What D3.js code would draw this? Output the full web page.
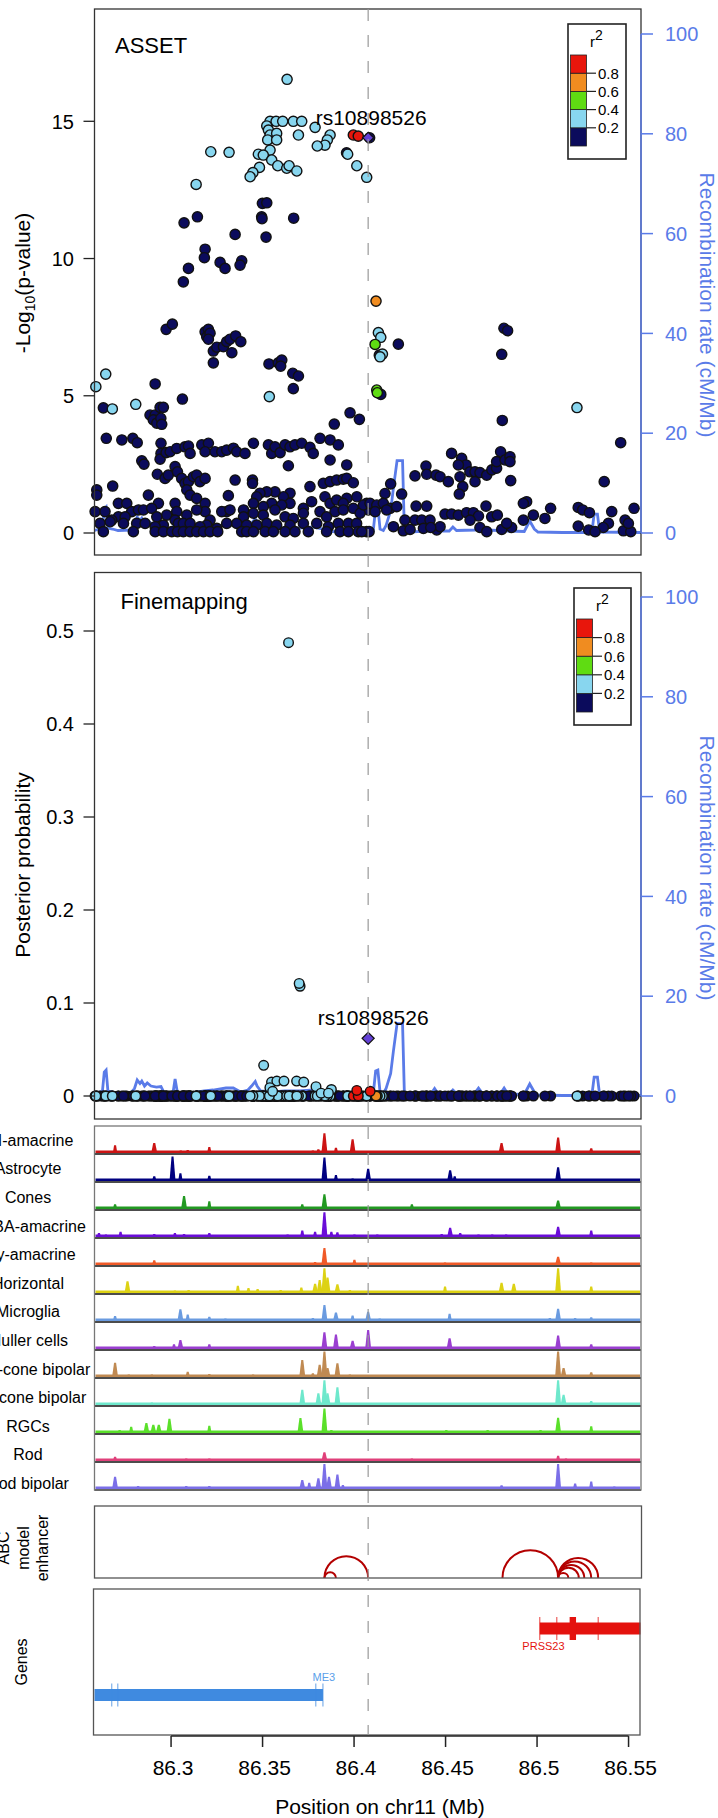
<!DOCTYPE html>
<html>
<head>
<meta charset="utf-8">
<script src="https://cdn.jsdelivr.net/npm/d3@7"></script>
<style>
  body { margin: 0; background: #fff; }
  svg text { font-family: "Liberation Sans", Arial, sans-serif; }
</style>
</head>
<body>
<svg id="chart" width="718" height="1818"></svg>
<script>
// ---- data ----
const xTicks = [86.3, 86.35, 86.4, 86.45, 86.5, 86.55];
const logpTicks = [0, 5, 10, 15];
const ppTicks = [0, 0.1, 0.2, 0.3, 0.4, 0.5];
const recombTicks = [0, 20, 40, 60, 80, 100];
const r2Breaks = [0.2, 0.4, 0.6, 0.8];
const r2Colors = ['#0b0b5c', '#88d6ef', '#5fdc12', '#f08c20', '#e8160c'];

const leadSnp = { name: 'rs10898526', pos: 86.4077, logp: 14.40, pp: 0.062 };

// ASSET -log10(p) by r2 class, [position Mb, -log10 p]
const snpsNavy = [
  [86.3499,12.01],[86.3523,12.03],[86.3144,11.52],[86.3071,11.30],[86.3495,11.52],[86.3497,11.45],[86.3670,11.47],
  [86.3350,10.88],[86.3519,10.78],[86.3186,10.34],[86.3182,10.03],[86.3268,9.86],[86.3295,9.64],[86.3386,9.92],
  [86.3377,9.76],[86.3095,9.64],[86.3067,9.15],[86.3959,13.85],[86.4085,14.40],
  [86.2973,7.42],[86.3007,7.61],[86.3186,7.33],[86.3204,7.42],[86.3195,7.15],[86.3213,7.28],[86.3204,7.06],
  [86.3231,6.63],[86.3250,6.77],[86.3286,6.79],[86.3304,6.97],[86.3322,7.06],[86.3353,7.18],[86.3381,6.97],
  [86.3332,6.57],[86.3231,6.20],[86.3535,6.16],[86.3586,6.20],[86.3605,6.30],[86.3599,6.08],[86.3665,5.82],
  [86.3696,5.72],[86.3668,5.26],[86.2630,4.56],[86.2913,5.43],[86.3062,4.88],[86.2885,4.30],[86.2913,4.30],
  [86.2940,4.58],[86.2958,4.58],[86.2903,4.12],[86.2922,4.00],[86.2944,4.18],[86.2949,3.96],
  [86.2646,3.45],[86.2731,3.39],[86.2791,3.45],[86.2815,3.29],[86.2840,2.63],[86.2852,2.51],
  [86.2945,3.27],[86.2945,2.90],[86.2940,2.69],
  [86.2973,2.93],[86.2995,2.96],[86.3031,3.08],[86.3076,3.14],[86.3095,3.17],[86.3104,2.90],[86.3168,3.21],
  [86.3204,3.27],[86.3186,2.96],[86.3240,2.96],[86.3277,2.96],[86.3304,3.02],[86.3341,3.09],[86.3359,2.96],
  [86.3404,2.90],[86.3450,3.27],[86.3532,3.21],[86.3550,2.90],[86.3568,3.14],[86.3596,2.93],[86.3623,3.21],
  [86.3650,3.14],[86.3677,3.21],[86.3714,3.27],[86.3759,3.12],[86.3777,2.90],[86.3814,3.45],[86.3869,3.39],
  [86.3914,3.21],[86.3869,2.66],[86.3960,2.48],[86.3892,3.97],[86.3978,4.38],[86.4029,4.14],[86.3641,2.45],
  [86.2681,1.71],[86.2594,1.57],[86.2594,1.38],[86.2925,2.14],[86.2967,1.99],[86.2985,2.11],[86.3022,2.42],
  [86.3035,2.23],[86.3058,1.99],[86.3076,1.81],[86.3095,1.87],[86.3122,2.05],[86.3140,2.11],[86.3158,1.87],
  [86.3186,1.99],[86.3086,1.57],[86.3104,1.38],[86.3140,1.26],[86.3186,1.08],[86.3350,1.93],[86.3445,1.93],
  [86.3445,1.81],[86.3313,1.36],[86.3650,1.45],[86.3614,1.32],[86.3568,1.50],[86.3523,1.50],[86.3486,1.45],
  [86.3468,1.32],[86.3759,1.69],[86.3832,1.81],[86.3869,1.87],[86.3905,1.93],[86.3941,1.96],[86.3960,1.99],
  [86.3996,1.83],[86.3841,1.32],[86.3869,1.08],[86.3905,1.20],[86.3960,1.26],[86.4015,1.32],[86.4069,1.08],
  [86.2712,1.08],[86.2758,1.08],[86.2931,1.08],[86.3022,1.08],[86.3450,1.08],[86.3550,1.08],[86.3650,1.08],
  [86.3941,1.08],[86.3768,1.14],[86.2876,1.38],[86.3605,1.02],[86.3504,0.96],[86.3723,0.90],[86.3304,0.78],
  [86.3396,0.84],[86.2585,0.78],[86.2639,0.78],[86.2785,0.78],[86.3031,0.78],[86.3186,0.78],[86.3277,0.78],
  [86.3814,0.78],[86.3896,0.78],[86.2822,0.84],[86.2849,0.84],[86.3140,0.84],[86.3322,0.84],[86.3568,0.84],
  [86.3941,0.84],[86.4078,0.84],[86.2894,0.90],[86.3996,0.90],[86.3450,0.72],[86.3723,0.72],[86.4033,0.72],
  [86.2976,0.65],[86.3086,0.65],[86.3504,0.65],[86.2712,0.59],[86.2749,0.59],[86.2922,0.59],[86.3396,0.59],
  [86.3623,0.59],[86.3850,0.59],[86.3668,0.53],[86.2676,0.47],[86.3213,0.47],[86.3022,0.47],[86.2667,0.41],
  [86.2612,0.35],[86.2740,0.35],[86.2812,0.35],[86.2858,0.35],[86.3040,0.35],[86.3067,0.35],[86.3104,0.35],
  [86.3304,0.35],[86.3359,0.35],[86.3523,0.35],[86.3723,0.35],[86.3796,0.35],[86.3914,0.35],[86.3969,0.35],
  [86.4014,0.35],[86.2958,0.29],[86.3195,0.29],[86.3413,0.29],[86.3468,0.29],[86.3577,0.29],[86.3650,0.29],
  [86.2913,0.23],[86.3158,0.23],[86.3860,0.23],[86.3250,0.17],
  [86.2630,0.05],[86.2794,0.05],[86.2913,0.05],[86.2958,0.05],[86.3004,0.05],[86.3035,0.05],[86.3067,0.05],
  [86.3104,0.05],[86.3140,0.05],[86.3177,0.05],[86.3213,0.05],[86.3255,0.05],[86.3386,0.05],[86.3413,0.05],
  [86.3450,0.05],[86.3514,0.05],[86.3559,0.05],[86.3623,0.05],[86.3677,0.05],[86.3750,0.05],[86.3850,0.05],
  [86.3923,0.05],[86.3969,0.05],[86.4023,0.05],[86.4069,0.05],
  [86.4138,6.48],[86.4146,5.05],[86.4242,6.88],[86.4819,7.46],[86.4839,7.37],[86.4807,6.51],[86.4810,4.10],
  [86.5457,3.29],[86.4533,2.90],[86.4588,2.72],[86.4612,2.48],[86.4570,2.48],[86.4579,2.05],[86.4594,1.69],
  [86.4575,1.42],[86.4633,2.23],[86.4661,2.23],[86.4661,1.87],[86.4688,2.20],[86.4725,2.11],[86.4753,2.30],
  [86.4779,2.36],[86.4779,2.60],[86.4801,2.96],[86.4825,2.66],[86.4852,2.78],[86.4852,2.60],[86.4856,1.91],
  [86.4393,2.44],[86.4397,2.14],[86.4448,2.11],[86.4470,2.05],[86.4515,1.87],[86.4333,2.08],[86.4200,1.79],
  [86.4169,1.44],[86.4260,1.42],[86.5367,1.87],[86.5074,0.90],[86.5043,0.53],[86.4943,1.14],[86.4925,1.08],
  [86.4980,0.65],[86.4925,0.47],[86.5225,0.93],[86.5249,0.84],[86.5286,0.74],[86.5408,0.78],[86.5530,0.90],
  [86.5481,0.47],[86.5225,0.25],[86.5390,0.35],[86.5362,0.20],[86.5282,0.11],[86.5317,0.05],[86.5472,0.08],
  [86.5512,0.05],[86.5499,0.35],[86.4051,1.02],[86.4087,1.08],[86.4124,1.02],[86.4160,1.08],[86.4197,0.90],
  [86.4233,0.96],[86.4115,0.78],[86.4178,0.84],[86.4339,0.98],[86.4397,0.98],[86.4278,0.47],[86.4333,0.47],
  [86.4370,0.47],[86.4415,0.47],[86.4215,0.23],[86.4269,0.08],[86.4306,0.13],[86.4379,0.17],[86.4452,0.11],
  [86.4470,0.23],[86.4419,0.20],[86.4497,0.69],[86.4533,0.69],[86.4570,0.65],[86.4615,0.74],[86.4652,0.74],
  [86.4680,0.62],[86.4721,0.98],[86.4752,0.59],[86.4783,0.65],[86.4634,0.47],[86.4688,0.20],[86.4725,0.05],
  [86.4807,0.13],[86.4861,0.20],[86.4834,0.35],[86.4082,0.05],[86.4042,0.05]
];
const snpsLightBlue = [
  [86.3634,16.53],[86.3541,15.0],[86.3574,15.0],[86.3610,15.0],[86.3668,15.0],[86.3714,15.0],[86.3787,14.78],
  [86.3523,14.83],[86.3532,14.68],[86.3541,14.50],[86.3528,14.32],[86.3577,14.56],[86.3577,14.32],[86.3696,14.50],
  [86.3869,14.50],[86.3854,14.32],[86.3841,14.13],[86.3799,14.10],[86.3541,13.95],[86.3477,13.80],[86.3504,13.77],
  [86.3217,13.89],[86.3317,13.87],[86.3550,13.59],[86.3583,13.38],[86.3632,13.29],[86.3645,13.38],[86.3687,13.19],
  [86.3483,13.32],[86.3447,13.13],[86.3432,12.98],[86.3137,12.70],[86.3965,13.80],[86.4015,13.38],[86.4069,12.96],
  [86.3537,4.97],[86.2643,5.79],[86.2589,5.33],[86.2679,4.52],[86.2807,4.69],
  [86.4133,7.30],[86.4146,7.13],[86.4155,6.52],[86.4142,6.42],[86.5218,4.57]
];
const snpsGreen = [[86.4115,6.87],[86.4124,5.21],[86.4127,5.11]];
const snpsOrange = [[86.4120,8.45]];
const snpsRed = [[86.3996,14.50],[86.4023,14.46]];

// Fine-mapping posterior probabilities that are above zero, [position Mb, PP]
const ppLightBlue = [
  [86.3642,0.4875],[86.3705,0.118],[86.3700,0.121],[86.3506,0.033],[86.3549,0.015],[86.3578,0.016],
  [86.3617,0.016],[86.3686,0.016],[86.3725,0.015],[86.3540,0.009],[86.3555,0.005],[86.3792,0.010],
  [86.3876,0.007],[86.3820,0.003],[86.3860,0.003]
];
const ppRed = [[86.4015,0.006],[86.4088,0.005]];

// Recombination rate, [position Mb, cM/Mb]
const recombRate = [
  [86.2582,0.5],[86.2625,1.0],[86.2635,4.8],[86.2645,5.2],[86.2655,1.0],[86.2680,0.8],[86.2710,0.5],
  [86.2780,0.6],[86.2800,1.5],[86.2815,3.2],[86.2830,2.5],[86.2840,3.0],[86.2855,2.0],[86.2870,2.6],
  [86.2890,2.0],[86.2920,1.8],[86.2945,1.9],[86.2960,0.8],[86.2980,0.6],[86.3010,0.5],[86.3022,3.4],
  [86.3035,0.6],[86.3100,0.5],[86.3180,1.0],[86.3230,1.2],[86.3300,1.6],[86.3340,1.6],[86.3380,0.8],
  [86.3420,1.2],[86.3440,2.0],[86.3460,2.9],[86.3470,2.0],[86.3490,1.0],[86.3560,0.8],[86.3620,1.0],
  [86.3700,1.0],[86.3780,1.2],[86.3830,0.8],[86.3880,0.3],[86.3980,0.2],[86.4050,0.3],[86.4105,0.5],
  [86.4118,5.0],[86.4130,5.2],[86.4142,0.8],[86.4160,0.5],[86.4175,1.5],[86.4200,4.5],[86.4215,9.0],
  [86.4235,14.5],[86.4265,14.5],[86.4275,0.4],[86.4300,0.2],[86.4420,0.4],[86.4440,1.5],[86.4460,0.4],
  [86.4520,0.4],[86.4540,1.2],[86.4560,0.5],[86.4660,0.6],[86.4680,1.6],[86.4700,0.6],[86.4800,0.5],
  [86.4820,1.6],[86.4840,0.4],[86.4930,0.3],[86.4960,2.4],[86.4985,0.8],[86.5005,0.2],[86.5140,0.1],
  [86.5190,0.1],[86.5260,0.1],[86.5300,0.3],[86.5312,3.8],[86.5330,3.8],[86.5342,0.2],[86.5568,0.1]
];

// Single-cell ATAC tracks, peaks as [position Mb, relative height]
const trackNames = ['AII-amacrine', 'Astrocyte', 'Cones', 'GABA-amacrine', 'Gly-amacrine', 'Horizontal',
  'Microglia', 'Muller cells', 'OFF-cone bipolar', 'ON-cone bipolar', 'RGCs', 'Rod', 'Rod bipolar'];
const trackColors = ['#cc1414', '#000080', '#229922', '#6a0dd8', '#f05a28', '#ddd214', '#6a9be0',
  '#9a3fd0', '#c08a52', '#6ee8cc', '#5ae02a', '#e0407a', '#7b6fe8'];
const peaksAII = [[86.2694,0.30],[86.2908,0.38],[86.3053,0.10],[86.3091,0.12],[86.3209,0.23],[86.3448,0.08],
  [86.3775,0.10],[86.3805,0.14],[86.3838,0.76],[86.3901,0.20],[86.3992,0.53],[86.4077,0.08],[86.4492,0.06],
  [86.4806,0.38],[86.5032,0.06],[86.5115,0.60],[86.5296,0.18],[86.5459,0.05]];
const peaksAstro = [[86.2644,0.05],[86.2908,0.18],[86.3008,0.94],[86.3051,0.30],[86.3209,0.20],[86.3448,0.05],
  [86.3775,0.08],[86.3838,0.90],[86.3901,0.23],[86.3992,0.10],[86.4077,0.47],[86.4253,0.05],[86.4525,0.41],
  [86.4550,0.18],[86.4605,0.08],[86.4806,0.05],[86.5115,0.53],[86.5296,0.08],[86.5535,0.04]];
const peaksCones = [[86.2694,0.18],[86.3071,0.50],[86.3209,0.30],[86.3448,0.05],[86.3717,0.18],[86.3838,0.57],
  [86.3922,0.08],[86.4316,0.18],[86.4604,0.05],[86.5115,0.33],[86.5296,0.08]];
const peaksGABA = [[86.2606,0.15],[86.2644,0.10],[86.2724,0.20],[86.2782,0.08],[86.2908,0.12],[86.3021,0.15],
  [86.3071,0.12],[86.3209,0.15],[86.3373,0.06],[86.3473,0.08],[86.3637,0.10],[86.3717,0.25],[86.3787,0.20],
  [86.3838,0.95],[86.3876,0.20],[86.3909,0.18],[86.4002,0.10],[86.4127,0.10],[86.4479,0.12],[86.4525,0.36],
  [86.4580,0.15],[86.4680,0.10],[86.4755,0.10],[86.4831,0.10],[86.5115,0.39],[86.5296,0.25]];
const peaksGly = [[86.2606,0.06],[86.2908,0.18],[86.3146,0.08],[86.3209,0.08],[86.3473,0.06],[86.3787,0.12],
  [86.3838,0.65],[86.4002,0.20],[86.4228,0.08],[86.4497,0.10],[86.4580,0.08],[86.5032,0.08],[86.5115,0.32],
  [86.5208,0.08],[86.5258,0.08],[86.5296,0.10]];
const peaksHoriz = [[86.2762,0.45],[86.2895,0.08],[86.3021,0.10],[86.3096,0.12],[86.3365,0.28],[86.3423,0.19],
  [86.3473,0.15],[86.3599,0.12],[86.3712,0.21],[86.3787,0.36],[86.3812,0.50],[86.3838,0.95],[86.3855,0.60],
  [86.3909,0.34],[86.3977,0.12],[86.4497,0.25],[86.4806,0.39],[86.4873,0.36],[86.5115,0.95],[86.5296,0.25]];
const peaksMicro = [[86.2694,0.19],[86.3051,0.45],[86.3091,0.25],[86.3209,0.16],[86.3297,0.10],[86.3448,0.08],
  [86.3574,0.08],[86.3775,0.12],[86.3838,0.62],[86.3901,0.33],[86.3992,0.21],[86.4077,0.36],[86.4140,0.10],
  [86.4522,0.28],[86.5070,0.12],[86.5115,0.47],[86.5208,0.12],[86.5296,0.14],[86.5535,0.07]];
const peaksMuller = [[86.2908,0.12],[86.3016,0.18],[86.3051,0.35],[86.3209,0.18],[86.3448,0.05],[86.3838,0.64],
  [86.3901,0.56],[86.3992,0.32],[86.4077,0.73],[86.4253,0.06],[86.4522,0.41],[86.5115,0.52],[86.5296,0.18]];
const peaksOFF = [[86.2694,0.55],[86.2769,0.10],[86.2895,0.10],[86.3091,0.20],[86.3209,0.12],[86.3323,0.08],
  [86.3448,0.10],[86.3717,0.65],[86.3775,0.14],[86.3812,0.47],[86.3838,0.98],[86.3855,0.35],[86.3909,0.53],
  [86.3977,0.10],[86.4328,0.06],[86.4504,0.06],[86.5115,0.98],[86.5145,0.35],[86.5296,0.18],[86.5459,0.06]];
const peaksON = [[86.2694,0.08],[86.2769,0.08],[86.2895,0.10],[86.3071,0.08],[86.3717,0.59],[86.3805,0.45],
  [86.3838,0.95],[86.3855,0.45],[86.3909,0.68],[86.4077,0.05],[86.4328,0.06],[86.4479,0.06],[86.5115,0.95],
  [86.5145,0.39],[86.5296,0.15]];
const peaksRGC = [[86.2606,0.08],[86.2719,0.12],[86.2782,0.24],[86.2865,0.38],[86.2903,0.32],[86.2933,0.32],
  [86.2991,0.55],[86.3209,0.28],[86.3707,0.58],[86.3838,0.94],[86.3876,0.12],[86.4002,0.08],[86.4504,0.12],
  [86.4730,0.12],[86.5019,0.12],[86.5115,0.59],[86.5296,0.26]];
const peaksRod = [[86.2694,0.16],[86.3083,0.10],[86.3209,0.10],[86.3717,0.08],[86.3838,0.34],[86.4316,0.10],
  [86.5115,0.20],[86.5158,0.10],[86.5296,0.06]];
const peaksRodBip = [[86.2694,0.47],[86.2820,0.12],[86.3083,0.12],[86.3209,0.12],[86.3717,0.35],[86.3755,0.24],
  [86.3805,0.41],[86.3838,0.96],[86.3863,0.47],[86.3909,0.56],[86.3939,0.15],[86.4806,0.14],[86.5115,0.96],
  [86.5208,0.21],[86.5296,0.29],[86.5422,0.10]];
const trackPeaks = [peaksAII, peaksAstro, peaksCones, peaksGABA, peaksGly, peaksHoriz, peaksMicro,
  peaksMuller, peaksOFF, peaksON, peaksRGC, peaksRod, peaksRodBip];

// ABC model enhancer-gene links, [start Mb, end Mb]
const abcLinks = [[86.3838,86.4077],[86.3838,86.3901],[86.4811,86.5115],[86.5115,86.5171],[86.5115,86.5228],
  [86.5115,86.5258],[86.5115,86.5296],[86.5115,86.5334]];

// Genes
const geneNames = ['ME3', 'PRSS23'];
const geneSpans = [[86.2400, 86.3830], [86.5015, 86.5800]];
const geneExons = [[86.2676, 86.2709, 86.3791, 86.3830], [86.5015, 86.5108, 86.5334]];
const geneCds = [[], [[86.5178, 86.5213]]];
const geneLabelPos = [86.3835, 86.5035];

// ---- layout ----
const svg = d3.select('#chart');
const frameL = 94.5, frameR = 641;
const recombColor = '#5a7be8';
const leadColor = '#6340d6';
const font = 20;

const x = d3.scaleLinear().domain([86.25816, 86.5568]).range([frameL, frameR]);
const y1 = d3.scaleLinear().domain([0, 15]).range([533, 121.3]);
const rec1 = d3.scaleLinear().domain([0, 100]).range([533, 34]);
const y2 = d3.scaleLinear().domain([0, 0.5]).range([1096, 631]);
const rec2 = d3.scaleLinear().domain([0, 100]).range([1096, 597]);

const classes = [snpsNavy, snpsLightBlue, snpsGreen, snpsOrange, snpsRed];

function frame(top, bottom, color) {
  svg.append('rect')
    .attr('x', frameL).attr('y', top)
    .attr('width', frameR - frameL).attr('height', bottom - top)
    .attr('fill', 'none').attr('stroke', color).attr('stroke-width', 1.3);
}

function leftAxis(yScale, ticks, fmt) {
  const g = svg.append('g');
  ticks.forEach(t => {
    g.append('line').attr('x1', frameL - 11).attr('x2', frameL)
      .attr('y1', yScale(t)).attr('y2', yScale(t)).attr('stroke', '#222').attr('stroke-width', 1.3);
    g.append('text').attr('x', 74).attr('y', yScale(t)).attr('dy', '0.36em')
      .attr('text-anchor', 'end').style('font-size', font + 'px').text(fmt(t));
  });
}

function rightAxis(recScale, labelY) {
  const g = svg.append('g');
  g.append('line').attr('x1', frameR).attr('x2', frameR)
    .attr('y1', recScale(0)).attr('y2', recScale(100)).attr('stroke', recombColor).attr('stroke-width', 1.5);
  recombTicks.forEach(t => {
    g.append('line').attr('x1', frameR).attr('x2', frameR + 12)
      .attr('y1', recScale(t)).attr('y2', recScale(t)).attr('stroke', recombColor).attr('stroke-width', 1.5);
    g.append('text').attr('x', 665).attr('y', recScale(t)).attr('dy', '0.36em')
      .attr('fill', recombColor).style('font-size', font + 'px').text(t);
  });
  g.append('text')
    .attr('transform', `translate(700,${labelY}) rotate(90)`)
    .attr('text-anchor', 'middle').attr('fill', recombColor)
    .style('font-size', '21px').text('Recombination rate (cM/Mb)');
}

function recombLine(recScale) {
  svg.append('path')
    .datum(recombRate)
    .attr('fill', 'none').attr('stroke', recombColor).attr('stroke-width', 2.8)
    .attr('d', d3.line().x(d => x(d[0])).y(d => recScale(d[1])));
}

function legend(bx, by, bw, bh, barTop, barBottom) {
  const s = d3.scaleLinear().domain([0, 1]).range([barBottom, barTop]);
  const g = svg.append('g');
  g.append('rect').attr('x', bx).attr('y', by).attr('width', bw).attr('height', bh)
    .attr('fill', '#fff').attr('stroke', '#222').attr('stroke-width', 1.6);
  const edges = [0].concat(r2Breaks, [1]);
  r2Colors.forEach((c, i) => {
    g.append('rect').attr('x', bx + 2.5).attr('y', s(edges[i + 1]))
      .attr('width', 16).attr('height', s(edges[i]) - s(edges[i + 1]))
      .attr('fill', c).attr('stroke', '#222').attr('stroke-width', 0.8);
  });
  r2Breaks.forEach(b => {
    g.append('line').attr('x1', bx + 18.5).attr('x2', bx + 28)
      .attr('y1', s(b)).attr('y2', s(b)).attr('stroke', '#222').attr('stroke-width', 1.2);
    g.append('text').attr('x', bx + 30).attr('y', s(b)).attr('dy', '0.36em')
      .style('font-size', '15px').text(b.toFixed(1));
  });
  const t = g.append('text').attr('x', bx + 22).attr('y', by + 23).style('font-size', '15px');
  t.append('tspan').text('r');
  t.append('tspan').attr('dy', -7).style('font-size', '14px').text('2');
}

function diamond(cx, cy, r) {
  return `M${cx},${cy - r}L${cx + r},${cy}L${cx},${cy + r}L${cx - r},${cy}Z`;
}

// ---- panel 1: ASSET ----
recombLine(rec1);
classes.forEach((arr, i) => {
  svg.append('g').selectAll('circle').data(arr).enter().append('circle')
    .attr('cx', d => x(d[0])).attr('cy', d => y1(d[1])).attr('r', 5.1)
    .attr('fill', r2Colors[i]).attr('stroke', '#111').attr('stroke-width', 1.4);
});
svg.append('path').attr('d', diamond(x(leadSnp.pos), y1(leadSnp.logp), 5.5))
  .attr('fill', leadColor).attr('stroke', '#111').attr('stroke-width', 1.2);
svg.append('text').attr('x', x(leadSnp.pos) + 3).attr('y', 125)
  .attr('text-anchor', 'middle').style('font-size', '21px').text(leadSnp.name);
frame(9, 555, '#333');
leftAxis(y1, logpTicks, d => d);
rightAxis(rec1, 305);
svg.append('text').attr('x', 115).attr('y', 53).style('font-size', '22px').text('ASSET');
const ylab1 = svg.append('text').attr('transform', 'translate(29.5,283) rotate(-90)')
  .attr('text-anchor', 'middle').style('font-size', '21px');
ylab1.append('tspan').text('-Log');
ylab1.append('tspan').attr('dy', 5).style('font-size', '14px').text('10');
ylab1.append('tspan').attr('dy', -5).text('(p-value)');
legend(568, 24, 58, 135, 55, 146);

// ---- panel 2: fine-mapping ----
recombLine(rec2);
classes.forEach((arr, i) => {
  svg.append('g').selectAll('circle').data(arr).enter().append('circle')
    .attr('cx', d => x(d[0])).attr('cy', y2(0)).attr('r', 4.8)
    .attr('fill', r2Colors[i]).attr('stroke', '#111').attr('stroke-width', 1.5);
});
[[ppLightBlue, r2Colors[1]], [ppRed, r2Colors[4]]].forEach(([arr, c]) => {
  svg.append('g').selectAll('circle').data(arr).enter().append('circle')
    .attr('cx', d => x(d[0])).attr('cy', d => y2(d[1])).attr('r', 4.8)
    .attr('fill', c).attr('stroke', '#111').attr('stroke-width', 1.4);
});
svg.append('path').attr('d', diamond(x(leadSnp.pos), y2(leadSnp.pp), 6))
  .attr('fill', leadColor).attr('stroke', '#111').attr('stroke-width', 1.3);
svg.append('text').attr('x', x(leadSnp.pos) + 5).attr('y', 1025)
  .attr('text-anchor', 'middle').style('font-size', '21px').text(leadSnp.name);
frame(572.5, 1119, '#333');
leftAxis(y2, ppTicks, d => d === 0 ? '0' : d.toFixed(1));
rightAxis(rec2, 868);
svg.append('text').attr('x', 120.5).attr('y', 608.5).style('font-size', '22px').text('Finemapping');
svg.append('text').attr('transform', 'translate(30,865) rotate(-90)')
  .attr('text-anchor', 'middle').style('font-size', '21px').text('Posterior probability');
legend(574, 588, 57, 137, 619, 712);

// ---- ATAC tracks ----
const trackTop = 1126, trackH = 28;
trackPeaks.forEach((peaks, i) => {
  const base = trackTop + trackH * (i + 1);
  const c = trackColors[i];
  const g = svg.append('g');
  g.append('line').attr('x1', frameL + 1).attr('x2', frameR - 1)
    .attr('y1', base - 2.2).attr('y2', base - 2.2).attr('stroke', c).attr('stroke-width', 2.4);
  g.selectAll('path').data(peaks).enter().append('path')
    .attr('fill', c)
    .attr('d', d => {
      const px = x(d[0]), top = base - 1 - d[1] * 26, w = d[1] > 0.3 ? 3 : 2.2;
      return `M${px - w},${base - 1}L${px - 1},${top}L${px + 1},${top}L${px + w},${base - 1}Z`;
    });
  g.append('line').attr('x1', frameL).attr('x2', frameR)
    .attr('y1', base).attr('y2', base).attr('stroke', '#111').attr('stroke-width', 1.5);
  g.append('text').attr('x', 28).attr('y', 1140 + 28.6 * i).attr('dy', '0.36em')
    .attr('text-anchor', 'middle').style('font-size', '16px').text(trackNames[i]);
});
frame(trackTop, trackTop + trackH * trackNames.length, '#777');

// ---- ABC model enhancer ----
const abcTop = 1506, abcBottom = 1578;
svg.append('g').selectAll('path').data(abcLinks).enter().append('path')
  .attr('fill', 'none').attr('stroke', '#b30000').attr('stroke-width', 2)
  .attr('d', d => {
    const a = x(d[0]), b = x(d[1]), r = (b - a) / 2;
    return `M${a},${abcBottom}A${r},${r} 0 0 1 ${b},${abcBottom}`;
  });
svg.append('rect').attr('x', frameL).attr('y', abcTop).attr('width', frameR - frameL + 0.5)
  .attr('height', abcBottom - abcTop).attr('fill', 'none').attr('stroke', '#555').attr('stroke-width', 1.3);
['ABC', 'model', 'enhancer'].forEach((t, i) => {
  svg.append('text').attr('transform', `translate(${9 + 19.5 * i},1548) rotate(-90)`)
    .attr('text-anchor', 'middle').style('font-size', '16px').text(t);
});

// ---- genes ----
const genesTop = 1589, genesBottom = 1735;
const geneY = [1695, 1628.5];
const geneColors = ['#3f8ae0', '#e4120e'];
const gg = svg.append('g');
gg.append('clipPath').attr('id', 'geneclip').append('rect')
  .attr('x', frameL).attr('y', genesTop).attr('width', frameR - frameL - 0.5).attr('height', genesBottom - genesTop);
const gclip = gg.append('g').attr('clip-path', 'url(#geneclip)');
geneNames.forEach((name, i) => {
  const cy = geneY[i], c = geneColors[i];
  gclip.append('rect').attr('x', x(geneSpans[i][0])).attr('y', cy - 6)
    .attr('width', x(geneSpans[i][1]) - x(geneSpans[i][0])).attr('height', 12).attr('fill', c);
  geneExons[i].forEach(e => {
    gclip.append('line').attr('x1', x(e)).attr('x2', x(e)).attr('y1', cy - 11.5).attr('y2', cy + 11.5)
      .attr('stroke', c).attr('stroke-width', 1).attr('opacity', 0.8);
  });
  geneCds[i].forEach(e => {
    gclip.append('rect').attr('x', x(e[0])).attr('y', cy - 11.5)
      .attr('width', x(e[1]) - x(e[0])).attr('height', 23).attr('fill', c);
  });
  gg.append('text').attr('x', x(geneLabelPos[i])).attr('y', i === 0 ? cy - 14 : cy + 21.5)
    .attr('text-anchor', 'middle').attr('fill', i === 0 ? '#5aa0ea' : '#e4120e')
    .style('font-size', '11px').text(name);
});
svg.append('rect').attr('x', frameL - 1).attr('y', genesTop).attr('width', frameR - frameL)
  .attr('height', genesBottom - genesTop).attr('fill', 'none').attr('stroke', '#555').attr('stroke-width', 1.3);
svg.append('text').attr('transform', 'translate(26.5,1662) rotate(-90)')
  .attr('text-anchor', 'middle').style('font-size', '16px').text('Genes');

// ---- lead SNP line ----
svg.append('line').attr('x1', x(leadSnp.pos)).attr('x2', x(leadSnp.pos))
  .attr('y1', 9).attr('y2', genesBottom)
  .attr('stroke', '#999').attr('stroke-width', 1.2).attr('stroke-dasharray', '12,14');

// ---- x axis ----
const xa = svg.append('g').attr('transform', `translate(0,${genesBottom + 1})`);
xa.append('line').attr('x1', x(xTicks[0])).attr('x2', x(xTicks[xTicks.length - 1]))
  .attr('stroke', '#222').attr('stroke-width', 1.5);
xTicks.forEach(t => {
  xa.append('line').attr('x1', x(t)).attr('x2', x(t)).attr('y1', 0).attr('y2', 11)
    .attr('stroke', '#222').attr('stroke-width', 1.5);
  xa.append('text').attr('x', x(t) + 2).attr('y', 39).attr('text-anchor', 'middle')
    .style('font-size', '21px').text(t);
});
svg.append('text').attr('x', 380).attr('y', 1814).attr('text-anchor', 'middle')
  .style('font-size', '21px').text('Position on chr11 (Mb)');
</script>
</body>
</html>
